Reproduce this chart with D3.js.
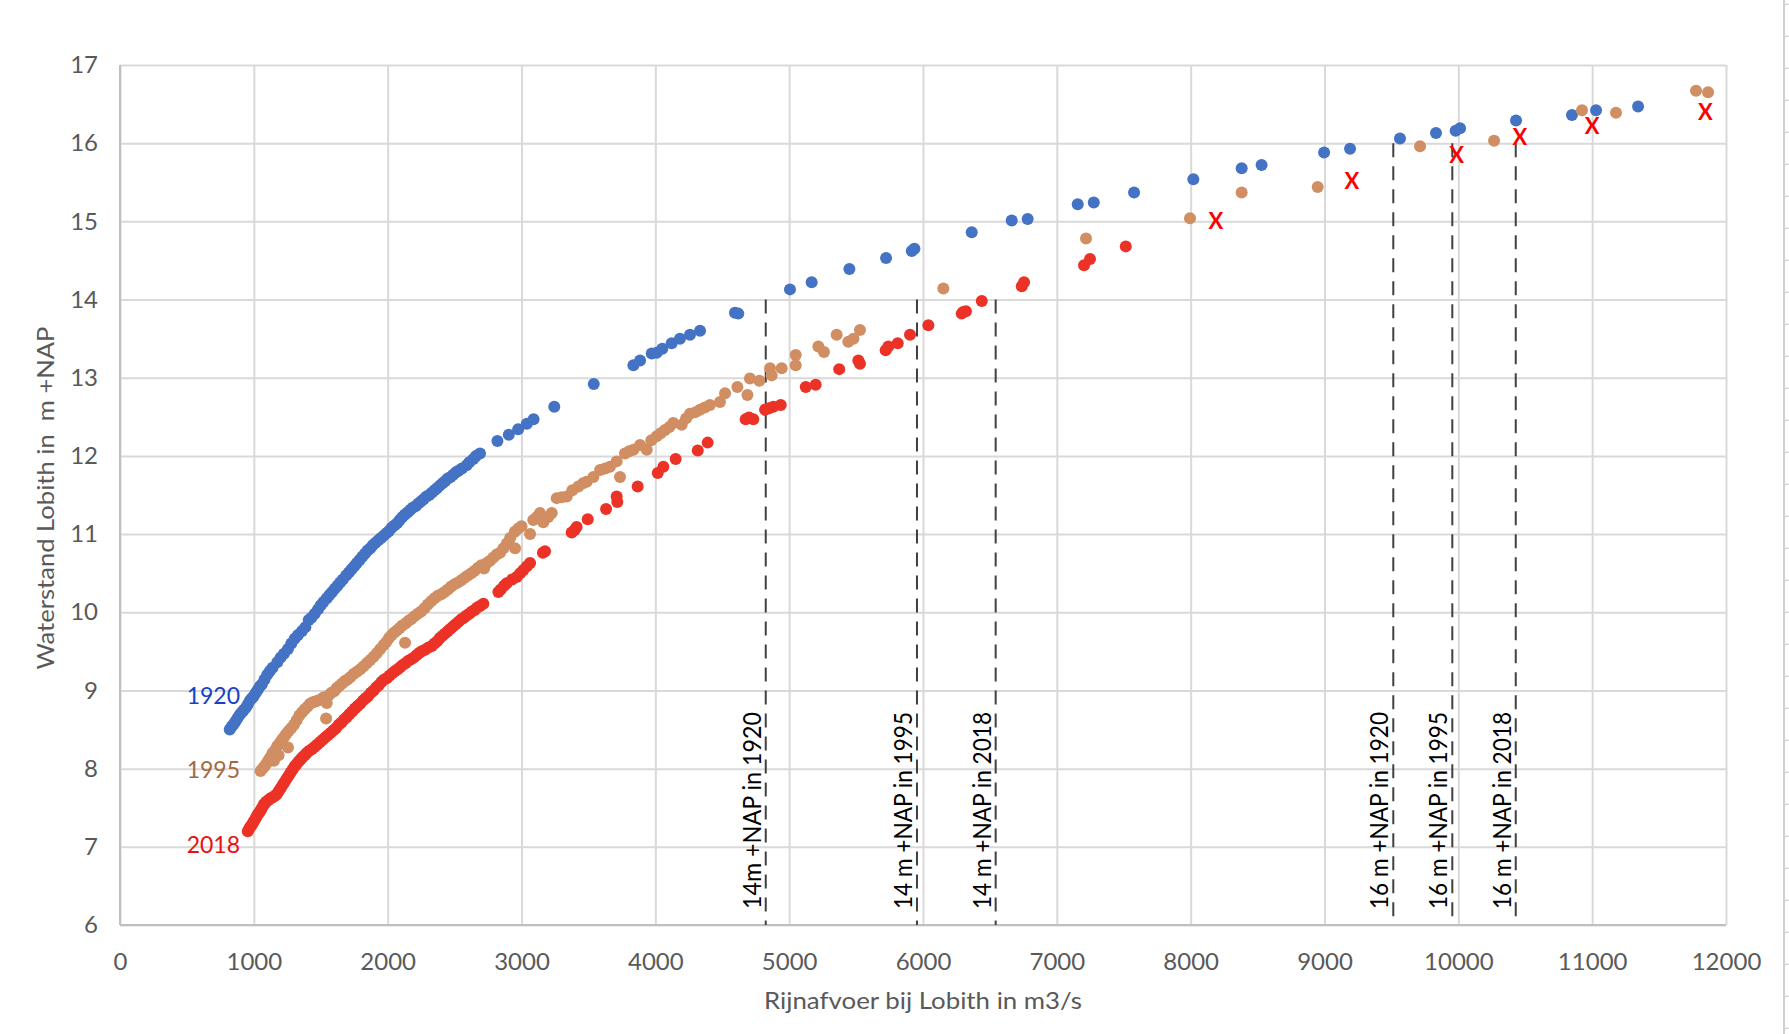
<!DOCTYPE html>
<html>
<head>
<meta charset="utf-8">
<script src="https://cdn.jsdelivr.net/npm/d3@7"></script>
<style>
  html, body { margin: 0; padding: 0; background: #ffffff; }
  svg { display: block; }
  text { font-family: Lato, "Open Sans", "Liberation Sans", sans-serif; }
</style>
</head>
<body>
<div id="chart"></div>
<script>
// ---------- data ----------
const xTicks = [0,1000,2000,3000,4000,5000,6000,7000,8000,9000,10000,11000,12000];
const yTicks = [6,7,8,9,10,11,12,13,14,15,16,17];

const seriesNames = ["1920", "1995", "2018"];

// 1920: [afvoer m3/s, waterstand m +NAP]
const pts1920 = [
 [820,8.50],[835,8.54],[850,8.57],[865,8.61],[880,8.65],[895,8.69],[910,8.72],[925,8.75],[940,8.78],[955,8.82],
 [970,8.87],[985,8.90],[1000,8.93],[1015,8.97],[1030,9.01],[1045,9.05],[1060,9.08],[1080,9.14],[1100,9.20],[1120,9.25],
 [1140,9.29],[1175,9.36],[1200,9.42],[1225,9.47],[1255,9.53],[1280,9.60],[1305,9.66],[1330,9.71],[1360,9.76],[1385,9.81],
 [1410,9.90],[1430,9.93],[1455,9.98],[1480,10.04],[1500,10.09],[1520,10.13],[1545,10.18],[1565,10.22],[1585,10.26],[1605,10.30],
 [1625,10.34],[1645,10.38],[1665,10.42],[1690,10.47],[1710,10.51],[1730,10.55],[1750,10.59],[1770,10.63],[1790,10.67],[1810,10.71],
 [1830,10.75],[1850,10.79],[1870,10.82],[1890,10.86],[1910,10.89],[1930,10.92],[1950,10.95],[1970,10.98],[1990,11.01],[2010,11.04],
 [2030,11.08],[2050,11.11],[2070,11.14],[2090,11.18],[2110,11.22],[2130,11.25],[2150,11.28],[2170,11.31],[2190,11.34],[2210,11.36],
 [2230,11.39],[2250,11.42],[2270,11.45],[2290,11.48],[2310,11.50],[2330,11.53],[2350,11.56],[2370,11.59],[2390,11.62],[2410,11.65],
 [2430,11.68],[2450,11.71],[2470,11.73],[2490,11.76],[2510,11.79],[2530,11.81],[2555,11.84],[2590,11.88],[2610,11.92],[2640,11.96],
 [2660,12.00],[2690,12.03],[2820,12.19],[2905,12.27],[2975,12.34],[3040,12.41],[3090,12.47],[3245,12.63],[3540,12.92],[3836,13.16],
 [3886,13.22],[3973,13.31],[4010,13.32],[4052,13.37],[4122,13.44],[4184,13.50],[4259,13.55],[4334,13.60],[4595,13.83],[4620,13.82],
 [5006,14.13],[5168,14.22],[5450,14.39],[5724,14.53],[5916,14.62],[5936,14.65],[6364,14.86],[6663,15.01],[6782,15.03],[7156,15.22],
 [7276,15.24],[7577,15.37],[8020,15.54],[8381,15.68],[8530,15.72],[8997,15.88],[9191,15.93],[9564,16.06],[9833,16.13],[9980,16.16],
 [10013,16.19],[10431,16.29],[10849,16.36],[11029,16.42],[11343,16.47]
];

const pts1995 = [
 [1050,7.97],[1065,8.00],[1080,8.03],[1095,8.07],[1110,8.11],[1125,8.15],[1140,8.20],[1150,8.10],[1160,8.24],[1175,8.29],
 [1185,8.17],[1195,8.33],[1210,8.37],[1225,8.40],[1240,8.44],[1255,8.27],[1260,8.48],[1280,8.52],[1300,8.56],[1320,8.62],
 [1340,8.68],[1360,8.72],[1380,8.76],[1400,8.79],[1420,8.83],[1440,8.85],[1460,8.86],[1480,8.87],[1500,8.88],[1520,8.91],
 [1540,8.64],[1545,8.84],[1560,8.94],[1580,8.97],[1600,8.99],[1620,9.03],[1640,9.06],[1660,9.09],[1680,9.12],[1700,9.14],
 [1720,9.17],[1745,9.21],[1770,9.24],[1795,9.27],[1820,9.31],[1845,9.35],[1870,9.39],[1895,9.43],[1920,9.48],[1945,9.53],
 [1970,9.58],[1990,9.62],[2010,9.67],[2030,9.71],[2050,9.74],[2070,9.77],[2090,9.80],[2110,9.83],[2130,9.61],[2135,9.86],
 [2155,9.89],[2175,9.91],[2200,9.95],[2225,9.98],[2250,10.01],[2275,10.05],[2300,10.10],[2325,10.14],[2350,10.18],[2375,10.21],
 [2400,10.23],[2425,10.26],[2450,10.29],[2475,10.33],[2500,10.36],[2525,10.38],[2550,10.41],[2575,10.44],[2600,10.47],[2625,10.50],
 [2650,10.53],[2675,10.57],[2700,10.60],[2720,10.56],[2740,10.63],[2765,10.66],[2790,10.70],[2815,10.74],[2840,10.76],[2865,10.82],
 [2890,10.88],[2915,10.95],[2950,11.03],[2952,10.82],[2975,11.07],[3000,11.10],[3064,11.00],[3088,11.18],[3115,11.22],[3138,11.27],
 [3163,11.15],[3200,11.22],[3226,11.27],[3263,11.46],[3300,11.47],[3338,11.48],[3380,11.56],[3425,11.61],[3460,11.65],[3487,11.67],
 [3537,11.73],[3587,11.82],[3625,11.84],[3661,11.86],[3711,11.93],[3736,11.73],[3773,12.03],[3805,12.06],[3836,12.08],[3886,12.14],
 [3936,12.08],[3970,12.20],[4010,12.25],[4040,12.29],[4072,12.33],[4105,12.37],[4134,12.42],[4197,12.40],[4230,12.48],[4259,12.54],
 [4300,12.56],[4334,12.59],[4370,12.62],[4408,12.65],[4483,12.69],[4521,12.80],[4613,12.88],[4688,12.78],[4707,12.99],[4777,12.96],
 [4857,13.12],[4869,13.03],[4944,13.12],[5049,13.29],[5049,13.16],[5218,13.40],[5260,13.33],[5355,13.55],[5442,13.46],[5480,13.50],
 [5529,13.61],[6152,14.14],[7218,14.78],[7995,15.04],[8381,15.37],[8949,15.44],[9714,15.96],[10267,16.03],[10924,16.42],[11178,16.39],
 [11776,16.67],[11866,16.65]
];

const pts2018 = [
 [955,7.20],[965,7.23],[975,7.26],[985,7.28],[995,7.31],[1005,7.34],[1015,7.37],[1025,7.40],[1035,7.43],[1045,7.45],
 [1055,7.48],[1065,7.51],[1075,7.54],[1085,7.56],[1095,7.58],[1110,7.60],[1125,7.62],[1140,7.63],[1155,7.65],[1170,7.67],
 [1185,7.71],[1200,7.75],[1215,7.79],[1230,7.83],[1245,7.87],[1260,7.91],[1275,7.95],[1290,7.99],[1305,8.03],[1320,8.06],
 [1335,8.09],[1350,8.12],[1365,8.15],[1380,8.17],[1395,8.20],[1415,8.23],[1435,8.25],[1455,8.28],[1475,8.31],[1495,8.34],
 [1515,8.37],[1535,8.40],[1555,8.43],[1575,8.46],[1595,8.49],[1615,8.52],[1635,8.56],[1655,8.59],[1675,8.63],[1695,8.66],
 [1715,8.70],[1735,8.73],[1755,8.77],[1775,8.80],[1795,8.83],[1815,8.87],[1835,8.90],[1855,8.93],[1875,8.97],[1895,9.00],
 [1915,9.04],[1935,9.07],[1955,9.11],[1975,9.14],[1995,9.16],[2015,9.19],[2035,9.22],[2055,9.25],[2075,9.27],[2095,9.30],
 [2115,9.33],[2135,9.35],[2155,9.38],[2175,9.40],[2195,9.42],[2215,9.45],[2235,9.48],[2255,9.50],[2280,9.52],[2305,9.55],
 [2330,9.57],[2350,9.60],[2370,9.63],[2390,9.67],[2410,9.70],[2430,9.73],[2450,9.76],[2470,9.79],[2490,9.82],[2510,9.85],
 [2530,9.88],[2550,9.91],[2570,9.93],[2590,9.96],[2610,9.98],[2630,10.01],[2650,10.03],[2670,10.06],[2690,10.08],[2715,10.11],
 [2827,10.26],[2845,10.29],[2870,10.34],[2889,10.37],[2930,10.42],[2964,10.45],[2990,10.50],[3014,10.54],[3040,10.59],[3064,10.63],
 [3160,10.76],[3176,10.78],[3375,11.02],[3395,11.05],[3412,11.09],[3495,11.19],[3632,11.32],[3711,11.48],[3716,11.41],[3868,11.61],
 [4018,11.78],[4060,11.86],[4152,11.96],[4317,12.07],[4391,12.17],[4675,12.47],[4700,12.49],[4732,12.47],[4820,12.59],[4850,12.61],
 [4882,12.63],[4937,12.65],[5124,12.88],[5198,12.91],[5374,13.11],[5517,13.22],[5529,13.18],[5721,13.35],[5741,13.40],[5811,13.44],
 [5903,13.55],[6040,13.67],[6289,13.82],[6300,13.84],[6321,13.85],[6439,13.98],[6738,14.17],[6755,14.22],[7203,14.44],[7248,14.52],
 [7515,14.68]
];

// red "X" markers
const ptsX = [[8189,15.00],[9204,15.52],[9988,15.85],[10460,16.08],[11000,16.22],[11846,16.40]];

// reference (dashed) lines
const refQ = [4825, 5955, 6543, 9514, 9955, 10429];
const refLevel = [14, 14, 14, 16, 16, 16];
const refLabel = ["14m +NAP in 1920", "14 m +NAP in 1995", "14 m +NAP in 2018",
                  "16 m +NAP in 1920", "16 m +NAP in 1995", "16 m +NAP in 2018"];

const xTitle = "Rijnafvoer bij Lobith in m3/s";
const yTitle = "Waterstand Lobith in  m +NAP";

// ---------- drawing ----------
const W = 1789, H = 1034;
const M = { left: 120, right: 1726, top: 65, bottom: 925 };
const colors = { "1920": "#4472C4", "1995": "#D08E62", "2018": "#EC3226" };
const labelColors = { "1920": "#1740C8", "1995": "#A5683E", "2018": "#E8100F" };

const svg = d3.select("#chart").append("svg").attr("width", W).attr("height", H);

const x = d3.scaleLinear().domain([0, 12000]).range([M.left, M.right]);
const y = d3.scaleLinear().domain([6, 17]).range([M.bottom, M.top]);

// spreadsheet edge artefact at the right
const edge = svg.append("g");
edge.append("line").attr("x1", 1784).attr("x2", 1784).attr("y1", 0).attr("y2", H)
  .attr("stroke", "#cfcfcf").attr("stroke-width", 2);
edge.selectAll("line.r").data(d3.range(4.3, H, 32)).enter().append("line")
  .attr("class", "r").attr("x1", 1784).attr("x2", W).attr("y1", d => d).attr("y2", d => d)
  .attr("stroke", "#d6d6d6").attr("stroke-width", 1.5);

// x axis with vertical gridlines
const xAxis = d3.axisBottom(x).tickValues(xTicks).tickFormat(d3.format("d"))
  .tickSize(-(M.bottom - M.top)).tickSizeOuter(0).tickPadding(28);
const gx = svg.append("g").attr("transform", `translate(0,${M.bottom})`).call(xAxis);
gx.selectAll(".tick line").attr("stroke", "#d9d9d9").attr("stroke-width", 2);
gx.select(".domain").remove();
gx.selectAll(".tick text").attr("fill", "#595959").style("font-size", "24px");

// y axis with horizontal gridlines
const yAxis = d3.axisLeft(y).tickValues(yTicks).tickFormat(d3.format("d"))
  .tickSize(-(M.right - M.left)).tickSizeOuter(0).tickPadding(22);
const gy = svg.append("g").attr("transform", `translate(${M.left},0)`).call(yAxis);
gy.selectAll(".tick line").attr("stroke", "#d9d9d9").attr("stroke-width", 2);
gy.select(".domain").remove();
gy.selectAll(".tick text").attr("fill", "#595959").style("font-size", "24px");

// axis lines
svg.append("line").attr("x1", M.left).attr("x2", M.right).attr("y1", M.bottom).attr("y2", M.bottom)
  .attr("stroke", "#bfbfbf").attr("stroke-width", 2);
svg.append("line").attr("x1", M.left).attr("x2", M.left).attr("y1", M.top).attr("y2", M.bottom)
  .attr("stroke", "#bfbfbf").attr("stroke-width", 2);

// axis titles
svg.append("text").attr("x", (M.left + M.right) / 2).attr("y", 1009)
  .attr("text-anchor", "middle").attr("fill", "#595959").style("font-size", "24px")
  .attr("textLength", 318).attr("lengthAdjust", "spacingAndGlyphs").text(xTitle);
svg.append("text").attr("transform", `translate(54,${(M.top + M.bottom) / 2 + 3}) rotate(-90)`)
  .attr("text-anchor", "middle").attr("fill", "#595959").style("font-size", "24px")
  .style("white-space", "pre")
  .attr("textLength", 343).attr("lengthAdjust", "spacingAndGlyphs").text(yTitle);

// reference dashed lines
const refs = refQ.map((q, i) => ({ q, level: refLevel[i], label: refLabel[i] }));
svg.append("g").selectAll("line").data(refs).enter().append("line")
  .attr("x1", d => x(d.q)).attr("x2", d => x(d.q))
  .attr("y1", d => y(d.level)).attr("y2", M.bottom)
  .attr("stroke", "#404040").attr("stroke-width", 2).attr("stroke-dasharray", "14,9");

// scatter series
const seriesData = [pts1920, pts1995, pts2018];
seriesNames.forEach((name, i) => {
  svg.append("g").selectAll("circle").data(seriesData[i]).enter().append("circle")
    .attr("cx", d => x(d[0])).attr("cy", d => y(d[1])).attr("r", 6)
    .attr("fill", colors[name]);
});

// X markers
svg.append("g").selectAll("text").data(ptsX).enter().append("text")
  .attr("x", d => x(d[0])).attr("y", d => y(d[1]))
  .attr("text-anchor", "middle").attr("dy", "0.36em")
  .attr("fill", "#FF0000").style("font-size", "22px").style("font-weight", "bold")
  .text("X");

// reference labels (rotated)
svg.append("g").selectAll("text").data(refs).enter().append("text")
  .attr("transform", d => `translate(${x(d.q) - 5},909) rotate(-90)`)
  .attr("fill", "#000000").style("font-size", "25px")
  .attr("textLength", 197).attr("lengthAdjust", "spacingAndGlyphs")
  .text(d => d.label);

// series year labels
const yearLabelAt = { "1920": [9, 8.93], "1995": [8, 7.98], "2018": [7, 7.02] };
seriesNames.forEach(name => {
  svg.append("text").attr("x", x(0) + 120).attr("y", y(yearLabelAt[name][1]))
    .attr("dy", "0.35em").attr("text-anchor", "end")
    .attr("fill", labelColors[name]).style("font-size", "23px").text(name);
});
</script>
</body>
</html>
